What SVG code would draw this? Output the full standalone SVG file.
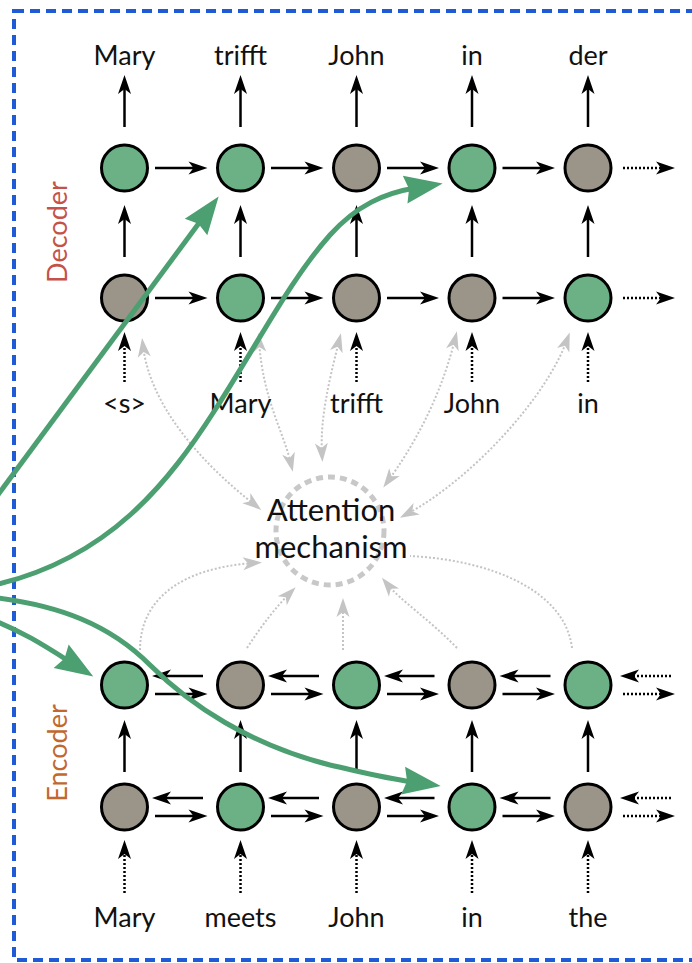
<svg xmlns="http://www.w3.org/2000/svg" width="692" height="963" viewBox="0 0 692 963">
  <style>
    .lbl { font-family: Lato, "Noto Sans", sans-serif; font-size: 27px; font-weight: 400; fill: #111; text-anchor: middle; }
    .big { font-size: 31px; }
    .side { font-family: Lato, "Noto Sans", sans-serif; font-size: 27px; font-weight: 400; text-anchor: middle; }
    .frame { fill: none; stroke: #1f5bd6; stroke-width: 4; stroke-dasharray: 10 6; }
    .green { fill: #6cb086; stroke: #000; stroke-width: 3; }
    .gray { fill: #9b9488; stroke: #000; stroke-width: 3; }
    .arr { fill: none; stroke: #000; stroke-width: 2.5; marker-end: url(#head); }
    .dot { stroke-dasharray: 2 2; }
    .att { fill: none; stroke: #c4c4c4; stroke-width: 2; stroke-dasharray: 2 2; marker-end: url(#ghead); }
    .both { marker-start: url(#ghead); }
    .flow { fill: none; stroke: #4c9f70; stroke-width: 5; marker-end: url(#bighead); }
    .ring { fill: none; stroke: #c8c8c8; stroke-width: 5; stroke-dasharray: 7 5; }
  </style>
  <defs>
    <marker id="head" viewBox="-12 -8 22 16" markerWidth="22" markerHeight="16" refX="0" refY="0" markerUnits="userSpaceOnUse" orient="auto-start-reverse">
      <path d="M8,0 L-11,-6.5 L-6,0 L-11,6.5 Z" fill="#000"/>
    </marker>
    <marker id="ghead" viewBox="-12 -8 22 16" markerWidth="22" markerHeight="16" refX="0" refY="0" markerUnits="userSpaceOnUse" orient="auto-start-reverse">
      <path d="M8,0 L-11,-6.5 L-6,0 L-11,6.5 Z" fill="#c4c4c4"/>
    </marker>
    <marker id="bighead" viewBox="-14 -16 46 32" markerWidth="46" markerHeight="32" refX="0" refY="0" markerUnits="userSpaceOnUse" orient="auto">
      <path d="M28,0 L-10,-14 L-6,0 L-10,14 Z" fill="#4c9f70"/>
    </marker>
  </defs>

  <!-- outer dashed frame (right side runs past the canvas) -->
  <rect class="frame" x="14" y="11" width="700" height="949"/>

  <!-- section titles -->
  <text class="side" fill="#c4524a" transform="translate(67,232) rotate(-90)">Decoder</text>
  <text class="side" fill="#c2682f" transform="translate(67,753) rotate(-90)">Encoder</text>

  <!-- attention connectors -->
  <g id="attention-links">
    <path class="att both" d="M143,346 C150,405 200,462 255,505"/>
    <path class="att both" d="M259,341 C263,400 283,430 291,464"/>
    <path class="att both" d="M339,341 C328,385 320,420 322,454"/>
    <path class="att both" d="M455,339 C440,400 412,448 388,481"/>
    <path class="att both" d="M567,340 C545,400 470,480 407,514"/>
    <path class="att" d="M140,650 C140,600 180,568 254,563"/>
    <path class="att" d="M247,648 C262,625 276,607 290,593"/>
    <path class="att" d="M343,650 L343,606"/>
    <path class="att" d="M457,648 C430,620 400,600 387,584"/>
    <path class="att" d="M572,648 C565,590 490,560 410,556" style="marker-end:none"/>
  </g>

  <!-- attention mechanism -->
  <g id="attention">
    <circle class="ring" cx="330" cy="531" r="54"/>
    <text class="lbl big" x="331" y="521">Attention</text>
    <text class="lbl big" x="331" y="558">mechanism</text>
  </g>

  <!-- recurrent connectors -->
  <g id="connectors">
    <!-- decoder outputs -->
    <line class="arr" x1="124.5" y1="127" x2="124.5" y2="83"/>
    <line class="arr" x1="240.5" y1="127" x2="240.5" y2="83"/>
    <line class="arr" x1="356.5" y1="127" x2="356.5" y2="83"/>
    <line class="arr" x1="472" y1="127" x2="472" y2="83"/>
    <line class="arr" x1="588" y1="127" x2="588" y2="83"/>
    <!-- decoder layer 1 to layer 2 -->
    <line class="arr" x1="124.5" y1="257" x2="124.5" y2="213"/>
    <line class="arr" x1="240.5" y1="257" x2="240.5" y2="213"/>
    <line class="arr" x1="356.5" y1="257" x2="356.5" y2="213"/>
    <line class="arr" x1="472" y1="257" x2="472" y2="213"/>
    <line class="arr" x1="588" y1="257" x2="588" y2="213"/>
    <!-- decoder inputs -->
    <line class="arr dot" x1="124.5" y1="382" x2="124.5" y2="340"/>
    <line class="arr dot" x1="240.5" y1="382" x2="240.5" y2="340"/>
    <line class="arr dot" x1="356.5" y1="382" x2="356.5" y2="340"/>
    <line class="arr dot" x1="472" y1="382" x2="472" y2="340"/>
    <line class="arr dot" x1="588" y1="382" x2="588" y2="340"/>
    <!-- decoder recurrences -->
    <line class="arr" x1="155" y1="168" x2="199.5" y2="168"/>
    <line class="arr" x1="271" y1="168" x2="315.5" y2="168"/>
    <line class="arr" x1="387" y1="168" x2="431" y2="168"/>
    <line class="arr" x1="502.5" y1="168" x2="547" y2="168"/>
    <line class="arr dot" x1="623" y1="168" x2="667" y2="168"/>
    <line class="arr" x1="155" y1="298" x2="199.5" y2="298"/>
    <line class="arr" x1="271" y1="298" x2="315.5" y2="298"/>
    <line class="arr" x1="387" y1="298" x2="431" y2="298"/>
    <line class="arr" x1="502.5" y1="298" x2="547" y2="298"/>
    <line class="arr dot" x1="623" y1="298" x2="667" y2="298"/>
    <!-- encoder layer 1 to layer 2 -->
    <line class="arr" x1="124.5" y1="772" x2="124.5" y2="728"/>
    <line class="arr" x1="240.5" y1="772" x2="240.5" y2="728"/>
    <line class="arr" x1="356.5" y1="772" x2="356.5" y2="728"/>
    <line class="arr" x1="472" y1="772" x2="472" y2="728"/>
    <line class="arr" x1="588" y1="772" x2="588" y2="728"/>
    <!-- encoder inputs -->
    <line class="arr dot" x1="124.5" y1="893" x2="124.5" y2="848"/>
    <line class="arr dot" x1="240.5" y1="893" x2="240.5" y2="848"/>
    <line class="arr dot" x1="356.5" y1="893" x2="356.5" y2="848"/>
    <line class="arr dot" x1="472" y1="893" x2="472" y2="848"/>
    <line class="arr dot" x1="588" y1="893" x2="588" y2="848"/>
    <!-- encoder bidirectional recurrences, upper layer -->
    <line class="arr" x1="203" y1="676" x2="160" y2="676"/>
    <line class="arr" x1="319" y1="676" x2="276" y2="676"/>
    <line class="arr" x1="434.5" y1="676" x2="392" y2="676"/>
    <line class="arr" x1="550.5" y1="676" x2="507.5" y2="676"/>
    <line class="arr dot" x1="671" y1="676" x2="628" y2="676"/>
    <line class="arr" x1="155" y1="694" x2="199.5" y2="694"/>
    <line class="arr" x1="271" y1="694" x2="315.5" y2="694"/>
    <line class="arr" x1="387" y1="694" x2="431" y2="694"/>
    <line class="arr" x1="502.5" y1="694" x2="547" y2="694"/>
    <line class="arr dot" x1="623" y1="694" x2="667" y2="694"/>
    <!-- encoder bidirectional recurrences, lower layer -->
    <line class="arr" x1="203" y1="798" x2="160" y2="798"/>
    <line class="arr" x1="319" y1="798" x2="276" y2="798"/>
    <line class="arr" x1="434.5" y1="798" x2="392" y2="798"/>
    <line class="arr" x1="550.5" y1="798" x2="507.5" y2="798"/>
    <line class="arr dot" x1="671" y1="798" x2="628" y2="798"/>
    <line class="arr" x1="155" y1="816" x2="199.5" y2="816"/>
    <line class="arr" x1="271" y1="816" x2="315.5" y2="816"/>
    <line class="arr" x1="387" y1="816" x2="431" y2="816"/>
    <line class="arr" x1="502.5" y1="816" x2="547" y2="816"/>
    <line class="arr dot" x1="623" y1="816" x2="667" y2="816"/>
  </g>

  <!-- decoder, upper layer -->
  <g id="dec2-1"><circle class="green" cx="124.5" cy="168" r="23"/></g>
  <g id="dec2-2"><circle class="green" cx="240.5" cy="168" r="23"/></g>
  <g id="dec2-3"><circle class="gray" cx="356.5" cy="168" r="23"/></g>
  <g id="dec2-4"><circle class="green" cx="472" cy="168" r="23"/></g>
  <g id="dec2-5"><circle class="gray" cx="588" cy="168" r="23"/></g>
  <!-- decoder, lower layer -->
  <g id="dec1-1"><circle class="gray" cx="124.5" cy="298" r="23"/></g>
  <g id="dec1-2"><circle class="green" cx="240.5" cy="298" r="23"/></g>
  <g id="dec1-3"><circle class="gray" cx="356.5" cy="298" r="23"/></g>
  <g id="dec1-4"><circle class="gray" cx="472" cy="298" r="23"/></g>
  <g id="dec1-5"><circle class="green" cx="588" cy="298" r="23"/></g>
  <!-- encoder, upper layer -->
  <g id="enc2-1"><circle class="green" cx="124.5" cy="685" r="23"/></g>
  <g id="enc2-2"><circle class="gray" cx="240.5" cy="685" r="23"/></g>
  <g id="enc2-3"><circle class="green" cx="356.5" cy="685" r="23"/></g>
  <g id="enc2-4"><circle class="gray" cx="472" cy="685" r="23"/></g>
  <g id="enc2-5"><circle class="green" cx="588" cy="685" r="23"/></g>
  <!-- encoder, lower layer -->
  <g id="enc1-1"><circle class="gray" cx="124.5" cy="807" r="23"/></g>
  <g id="enc1-2"><circle class="green" cx="240.5" cy="807" r="23"/></g>
  <g id="enc1-3"><circle class="gray" cx="356.5" cy="807" r="23"/></g>
  <g id="enc1-4"><circle class="green" cx="472" cy="807" r="23"/></g>
  <g id="enc1-5"><circle class="gray" cx="588" cy="807" r="23"/></g>

  <!-- words -->
  <g id="outputs">
    <text class="lbl" x="124.5" y="65">Mary</text>
    <text class="lbl" x="240.5" y="65">trifft</text>
    <text class="lbl" x="356.5" y="65">John</text>
    <text class="lbl" x="472" y="65">in</text>
    <text class="lbl" x="588" y="65">der</text>
  </g>
  <g id="dec-inputs">
    <text class="lbl" x="124.5" y="413">&lt;s&gt;</text>
    <text class="lbl" x="240.5" y="413">Mary</text>
    <text class="lbl" x="356.5" y="413">trifft</text>
    <text class="lbl" x="472" y="413">John</text>
    <text class="lbl" x="588" y="413">in</text>
  </g>
  <g id="enc-inputs">
    <text class="lbl" x="124.5" y="927">Mary</text>
    <text class="lbl" x="240.5" y="927">meets</text>
    <text class="lbl" x="356.5" y="927">John</text>
    <text class="lbl" x="472" y="927">in</text>
    <text class="lbl" x="588" y="927">the</text>
  </g>

  <!-- highlighted flows -->
  <g id="flows">
    <path class="flow" d="M-20,519 L202,219"/>
    <path class="flow" d="M-10,586 C110,560 170,480 215,410 C260,340 290,280 330,235 C357,205 385,193 415,188"/>
    <path class="flow" d="M-10,619 C20,630 45,646 69.6,661.6"/>
    <path class="flow" d="M-10,597 C60,605 110,625 150,665 C190,705 250,745 330,765 C370,774 385,778 413,782"/>
  </g>
</svg>
